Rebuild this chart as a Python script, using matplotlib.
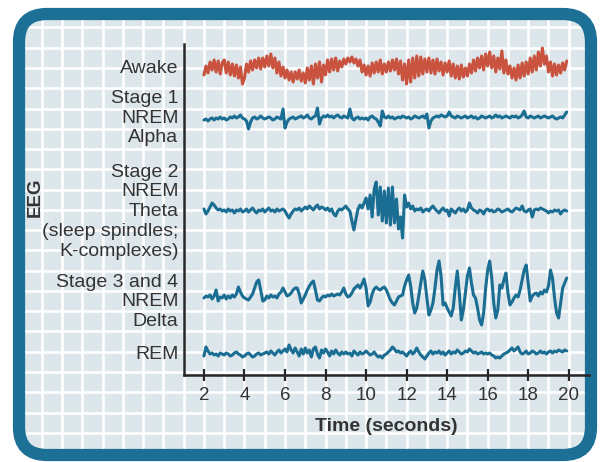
import numpy as np
import matplotlib
matplotlib.use("Agg")
import matplotlib.pyplot as plt
from matplotlib.patches import FancyBboxPatch
from matplotlib.lines import Line2D
import matplotlib.transforms as mtransforms

plt.rcParams['font.family'] = ['Liberation Sans', 'DejaVu Sans']

# ---------------- data ----------------
xticks = [2, 4, 6, 8, 10, 12, 14, 16, 18, 20]
xlabel = "Time (seconds)"
ylabel = "EEG"

# stage labels (one entry per text line)
label_lines = ["Awake",
               "Stage 1", "NREM", "Alpha",
               "Stage 2", "NREM", "Theta", "(sleep spindles;", "K-complexes)",
               "Stage 3 and 4", "NREM", "Delta",
               "REM"]

# traces sampled every 0.1 s from 2.0 s to 19.9 s (amplitude in arbitrary units)
awake = [-6, 3, -4, 7, -1, 9, -3, 8, -5, 6,
         9, -4, 7, -6, 5, -7, 4, -9, 2, -15,
         -9, 5, -3, 8, -1, 9, 1, 11, 0, 11,
         2, 13, 3, 15, 1, 11, -4, 7, -7, 2,
         -9, -1, -11, -3, -13, -3, -10, -1, -12, -4,
         -14, 1, -11, 3, -15, 5, -9, 7, -13, 4,
         -6, 9, -3, 10, -1, 11, -2, 8, 2, 10,
         5, 11, 7, 12, 6, 10, 3, 9, -3, 4,
         -6, 3, -7, 6, -4, 7, -3, 9, -5, 5,
         -3, 7, -2, 9, -1, 10, -5, 8, -11, 5,
         -15, 9, -13, 11, -9, 13, -7, 12, -5, 10,
         -3, 11, -4, 9, -5, 10, -2, 7, -6, 6,
         -3, 8, -7, 5, -9, 3, -10, 4, -8, 1,
         -7, 5, -4, 9, -2, 11, 1, 13, -1, 15,
         3, 17, 1, 13, -3, 11, 0, 18, -4, 9,
         -5, 3, -9, 1, -11, 4, -9, 6, -7, 7,
         -5, 11, -3, 13, -1, 17, 3, 21, 5, 13,
         -3, 7, -7, 5, -6, 4, -4, 6, -1, 8]

stage1 = [-1, 0, -2, 0, 1, -1, 1, 0, 2, 0,
          1, -1, 0, 2, 1, 3, 1, 2, 4, 1,
          0, -2, -10, -3, 1, 2, 0, 1, 3, 1,
          0, 1, 2, 1, -1, 0, 2, 1, 0, 10,
          -9, -3, 0, 1, 2, 0, 1, 2, 3, 1,
          2, 4, 1, 0, 2, 3, 11, -5, 1, 3,
          2, 4, 2, 3, 1, 3, 4, 2, 1, 3,
          2, 1, 10, 1, -1, 1, 2, 0, 1, 0,
          1, -1, 2, 3, 1, 0, -3, -7, 8, 2,
          1, 3, 1, 2, 0, 1, 2, 1, 3, 2,
          1, 2, 0, 1, 3, 2, 1, 2, 3, 1,
          5, -9, -2, 1, 2, 3, 2, 4, 3, 2,
          3, 7, 3, 2, 1, 3, 2, 1, 2, 3,
          1, 2, 3, 1, 2, 0, 1, 3, 2, 1,
          2, 3, 1, 2, 4, 2, 3, 1, 2, 3,
          2, 1, 3, 2, 3, 1, 2, 4, 8, 2,
          1, 3, 2, 1, 2, 3, 1, 2, 3, 2,
          1, 2, 3, 1, 0, 1, 2, 1, 4, 7]

stage2 = [2, -3, 0, 4, 8, 6, 3, 1, 2, 0,
          1, -1, 2, 0, 1, -2, 1, 0, 2, -1,
          0, 2, -1, 1, 3, 0, -2, 1, 0, 2,
          -1, 1, 3, 0, 1, -1, 2, 0, 1, 2,
          0, -4, -7, -3, 0, 2, 1, 3, 0, 2,
          4, 2, 5, 3, 1, 4, 6, 2, 4, 3,
          1, 3, 0, 2, -3, -5, 0, 2, 1, 3,
          5, 2, 0, -10, -19, -8, 2, 6, 3, 8,
          13, 2, 16, -6, 22, 29, -4, 24, -10, 20,
          -12, 23, -14, 24, -12, 12, -18, -6, -27, 16,
          4, 8, 2, 5, 0, 2, 1, 3, -1, 1,
          2, 0, 3, 5, 2, 0, -2, 1, 3, 0,
          1, -5, 2, 0, -2, 1, 3, 0, 2, -1,
          1, 8, 3, 1, 0, -2, 1, 0, -3, 1,
          2, 0, 1, -1, 0, 2, 1, -1, 0, 1,
          2, 0, -1, 1, 3, 2, 1, 5, 0, -1,
          1, 2, -6, 1, 2, 1, 3, 2, 1, 0,
          -2, 0, -1, 1, 0, 1, -3, 0, 1, 0]

stage34 = [0, 2, 1, 3, -1, 2, 8, -3, 1, 0,
           3, -1, 2, 0, 3, 1, 4, 11, 6, 2,
           0, -1, -2, 1, 4, 10, 16, 18, 8, -3,
           -2, 2, 0, 3, 1, 2, 0, 4, 6, 10,
           6, 2, 3, 5, 8, 10, 10, 4, -5, -1,
           3, 8, 12, 15, 17, 8, -2, -3, 0, 2,
           1, 3, 2, 4, 2, 3, 4, 3, 6, 10,
           4, 1, 2, 5, 9, 11, 13, 10, 14, 19,
           10, -8, -4, 4, 9, 11, 9, 8, 10, 11,
           8, 3, -2, -5, -7, -3, 1, 2, 3, 12,
           18, 23, 12, -5, -15, -10, 2, 15, 27, 18,
           0, -17, -12, -5, 10, 28, 37, 22, -7, -5,
           -10, -14, -18, -10, 10, 27, 5, -22, -12, 5,
           22, 30, 15, 3, 0, -10, -22, -27, -15, 10,
           28, 37, 20, -5, -20, -12, 13, 10, 18, 25,
           5, -7, -4, 0, 3, 1, 8, 18, 28, 33,
           15, -3, 2, 4, 5, 2, 6, 4, 8, 6,
           12, 28, 20, 0, -15, -20, -5, 10, 15, 20]

rem = [-2, 7, 3, 0, 1, -1, 0, -2, 1, 0,
       -1, 1, 0, -2, -1, 1, 2, 0, -1, -3,
       -2, 0, 1, -1, -3, -2, 0, 1, -1, 0,
       1, 2, 0, 3, 1, -1, 2, 4, 1, 3,
       5, 2, 9, 4, 1, 6, 2, -2, 5, 0,
       6, 1, 4, -3, 5, 7, 0, -4, 4, 1,
       5, 2, -2, 3, 0, 4, 1, -1, 2, 0,
       2, 0, 1, -2, 3, 1, -1, 2, 0, 1,
       3, 1, -1, 0, 2, -1, -3, -2, -4, -1,
       0, 2, 4, 7, 5, 2, 3, 1, 2, 0,
       -2, 1, 3, 0, 2, 6, 2, -1, -3, -5,
       -2, 1, 3, 0, 2, 1, 3, 0, 2, -1,
       1, 3, 0, 2, 1, 4, 2, 0, 1, 3,
       2, 5, 3, 1, 2, 0, 1, 2, 0, 1,
       0, 1, -1, -2, -4, -3, -4, -2, 0, 1,
       2, 4, 6, 3, 5, 7, 2, 0, 1, 3,
       0, 1, 3, 2, 0, 1, 3, 1, 2, 0,
       2, 3, 1, 3, 2, 4, 3, 2, 4, 3]

t_start, t_end = 2.0, 19.9

# ---------------- layout / style ----------------
W, H = 600, 462
RED = '#c9533f'
BLUE = '#1b6e93'
FRAME = '#1c6f95'
PANEL = '#dde6ea'
TXT = '#333333'
AX_L, AX_R, AX_T, AX_B = 183.7, 589.0, 44.0, 375.0   # pixel box of plot

fig = plt.figure(figsize=(W / 100, H / 100), dpi=100)
fig.patch.set_facecolor('white')

# background panel with grid
bg = fig.add_axes([0, 0, 1, 1])
bg.set_xlim(0, W)
bg.set_ylim(H, 0)
bg.axis('off')
face = FancyBboxPatch((19, 14), 572, 441, boxstyle='round,pad=0,rounding_size=28',
                      fc=PANEL, ec='none', zorder=0)
bg.add_patch(face)
step = (AX_R - AX_L) / 20.0
for m in range(-10, 22):
    xp = AX_L + step * m
    ln = Line2D([xp, xp], [0, H], color='white', lw=1.8, zorder=1)
    bg.add_line(ln)
    ln.set_clip_path(face)
for m in range(-4, 22):
    yp = 68.0 + step * m
    ln = Line2D([0, W], [yp, yp], color='white', lw=1.8, zorder=1)
    bg.add_line(ln)
    ln.set_clip_path(face)
border = FancyBboxPatch((19, 14), 572, 441, boxstyle='round,pad=0,rounding_size=28',
                        fc='none', ec=FRAME, lw=8.8, zorder=3)
bg.add_patch(border)

# main axes
ax = fig.add_axes([AX_L / W, (H - AX_B) / H, (AX_R - AX_L) / W, (AX_B - AX_T) / H])
ax.patch.set_visible(False)
ax.set_xlim(1, 21)
ax.set_ylim(0, AX_B - AX_T)
for s in ['top', 'right']:
    ax.spines[s].set_visible(False)
for s in ['left', 'bottom']:
    ax.spines[s].set_color('#262626')
    ax.spines[s].set_linewidth(1.8)
ax.set_yticks([])
ax.set_xticks(xticks)
ax.set_xticklabels([str(v) for v in xticks])
ax.tick_params(axis='x', direction='inout', length=8.6, width=1.6, color='#262626',
               labelsize=13.5, labelcolor=TXT, pad=4.0)

# traces: (values, colour, vertical centre in pixels)
traces = [(awake, RED, 69), (stage1, BLUE, 119), (stage2, BLUE, 211),
          (stage34, BLUE, 298), (rem, BLUE, 354)]
for vals, col, cy in traces:
    v = np.asarray(vals, dtype=float)
    t = np.linspace(t_start, t_end, len(v))
    ax.plot(t, (AX_B - cy) + v, color=col, lw=2.2, solid_joinstyle='round',
            solid_capstyle='round')

# stage labels
baselines = [73.3, 102.7, 123.0, 142.3, 176.7, 196.5, 216.3, 236.3, 256.3,
             286.7, 306.5, 326.3, 359.3]
trans = mtransforms.blended_transform_factory(ax.transAxes, ax.transData)
xr = (178.5 - AX_L) / (AX_R - AX_L)
for txt, bl in zip(label_lines, baselines):
    ax.text(xr, AX_B - bl, txt, ha='right', va='baseline', fontsize=14,
            color=TXT, transform=trans)

fig.text(386 / W, (H - 430.7) / H, xlabel, ha='center', va='baseline',
         fontsize=14, fontweight='bold', color=TXT)
fig.text(35 / W, (H - 197) / H, ylabel, rotation=90, ha='center', va='center',
         fontsize=13.5, fontweight='bold', color=TXT)

fig.savefig('out.png', dpi=100, facecolor='white')
